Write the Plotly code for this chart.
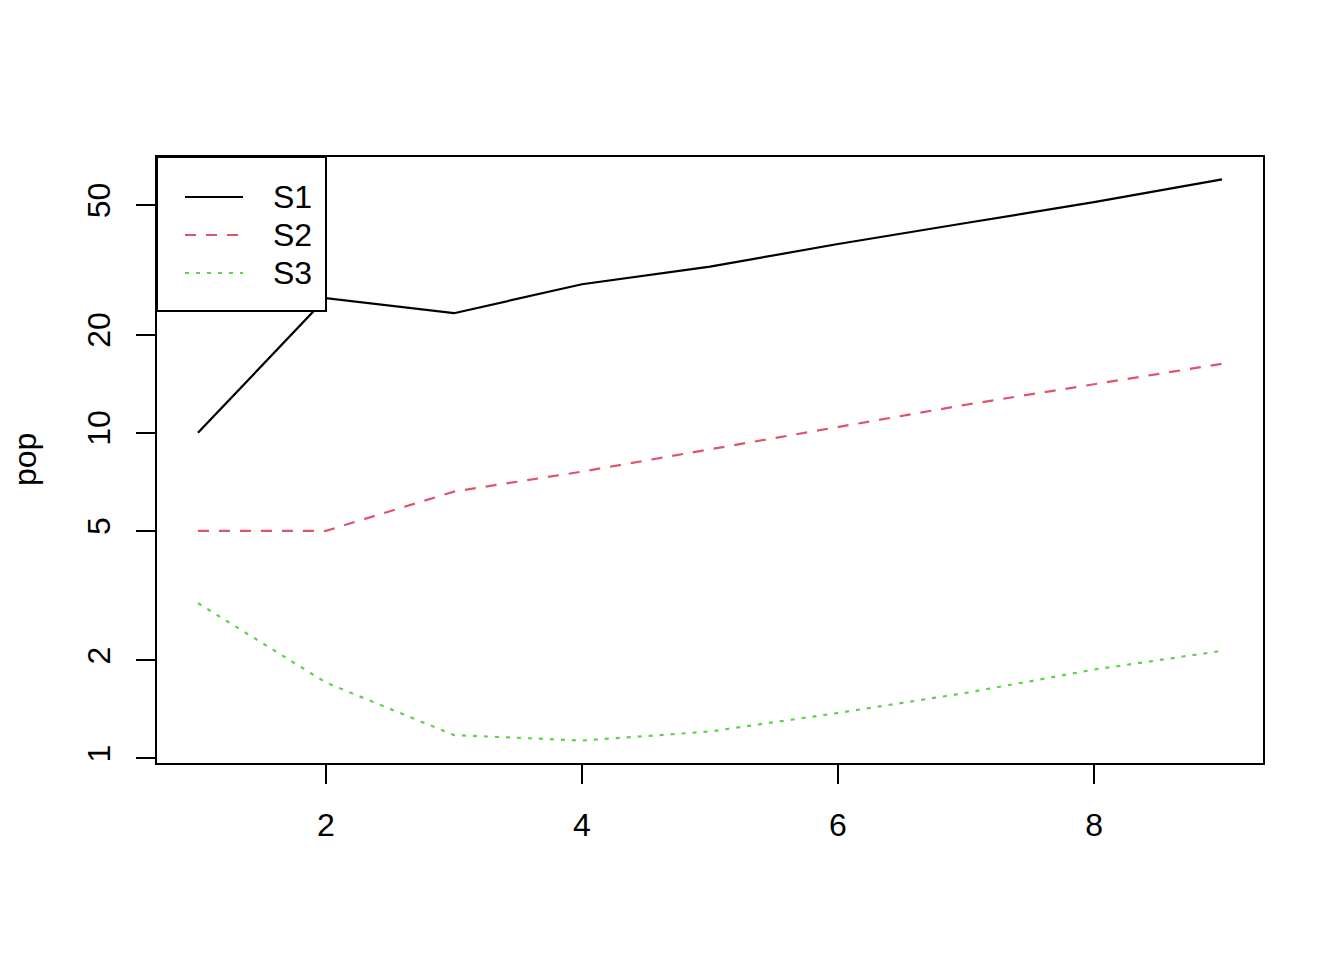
import math
import plotly.graph_objects as go

# ---- data ----
x_vals = [1, 2, 3, 4, 5, 6, 7, 8, 9]
s1 = [10.0, 25.9, 23.3, 28.6, 32.4, 38.0, 44.1, 51.1, 60.0]
s2 = [5.0, 5.0, 6.6, 7.6, 8.9, 10.4, 12.2, 14.1, 16.3]
s3 = [3.0, 1.71, 1.18, 1.135, 1.21, 1.38, 1.59, 1.875, 2.14]
series_names = ["S1", "S2", "S3"]
x_ticks = [2, 4, 6, 8]
y_ticks = [1, 2, 5, 10, 20, 50]
y_title = "pop"

# ---- styles ----
colors = ["#000000", "#DF536B", "#61D04F"]
dashes = ["solid", "11px,10px", "4px,7px"]
FONT = "Liberation Sans, Arial, Helvetica, sans-serif"
FS = 32
W, H = 1344, 960
OFF = 8  # page body margin
L, R, T, B = 157, 1263, 157, 763
pw, ph = R - L, B - T

def px_x(p):
    return (p - L) / pw

def px_y(p):
    return 1 - (p - T) / ph

# R-style 4% padding of the data range
xmin, xmax = min(x_vals), max(x_vals)
xpad = 0.04 * (xmax - xmin)
allv = s1 + s2 + s3
lo, hi = math.log10(min(allv)), math.log10(max(allv))
ypad = 0.04 * (hi - lo)

fig = go.Figure()
for name, ys, c, d in zip(series_names, [s1, s2, s3], colors, dashes):
    fig.add_trace(go.Scatter(x=x_vals, y=ys, mode="lines", name=name,
                             line=dict(color=c, width=2.2, dash=d),
                             showlegend=False))

axis_common = dict(showgrid=False, zeroline=False, showline=True, mirror=True,
                   linecolor="black", linewidth=2, ticks="outside", ticklen=19,
                   tickwidth=2, tickcolor="black",
                   tickfont=dict(family=FONT, size=FS, color="black"))

fig.update_layout(
    width=W, height=H,
    margin=dict(l=L - OFF, r=W - R + OFF, t=T - OFF, b=H - B + OFF, pad=0),
    paper_bgcolor="white", plot_bgcolor="white",
    showlegend=False,
    xaxis=dict(range=[xmin - xpad, xmax + xpad], tickvals=x_ticks,
               ticktext=[str(v) for v in x_ticks], ticklabelstandoff=14,
               **axis_common),
    yaxis=dict(type="log", range=[lo - ypad, hi + ypad], tickvals=y_ticks,
               ticktext=[str(v) for v in y_ticks], tickangle=-90,
               ticklabelstandoff=13, **axis_common),
)

# y-axis title
fig.add_annotation(text=y_title, xref="paper", yref="paper",
                   x=px_x(25), y=0.5, xanchor="center", yanchor="middle",
                   textangle=-90, showarrow=False,
                   font=dict(family=FONT, size=FS, color="black"))

# legend (top-left, boxed, R style)
fig.add_shape(type="rect", xref="paper", yref="paper",
              x0=0, y0=px_y(311), x1=px_x(326), y1=1,
              line=dict(color="black", width=2), fillcolor="white", layer="above")
rows = [197, 235, 273]
for name, c, d, ry in zip(series_names, colors, dashes, rows):
    fig.add_shape(type="line", xref="paper", yref="paper",
                  x0=px_x(185), x1=px_x(243), y0=px_y(ry), y1=px_y(ry),
                  line=dict(color=c, width=2.2, dash=d), layer="above")
    fig.add_annotation(text=name, xref="paper", yref="paper",
                       x=px_x(271), y=px_y(ry), xanchor="left", yanchor="middle",
                       showarrow=False,
                       font=dict(family=FONT, size=FS, color="black"))

fig.write_html("out.html")
